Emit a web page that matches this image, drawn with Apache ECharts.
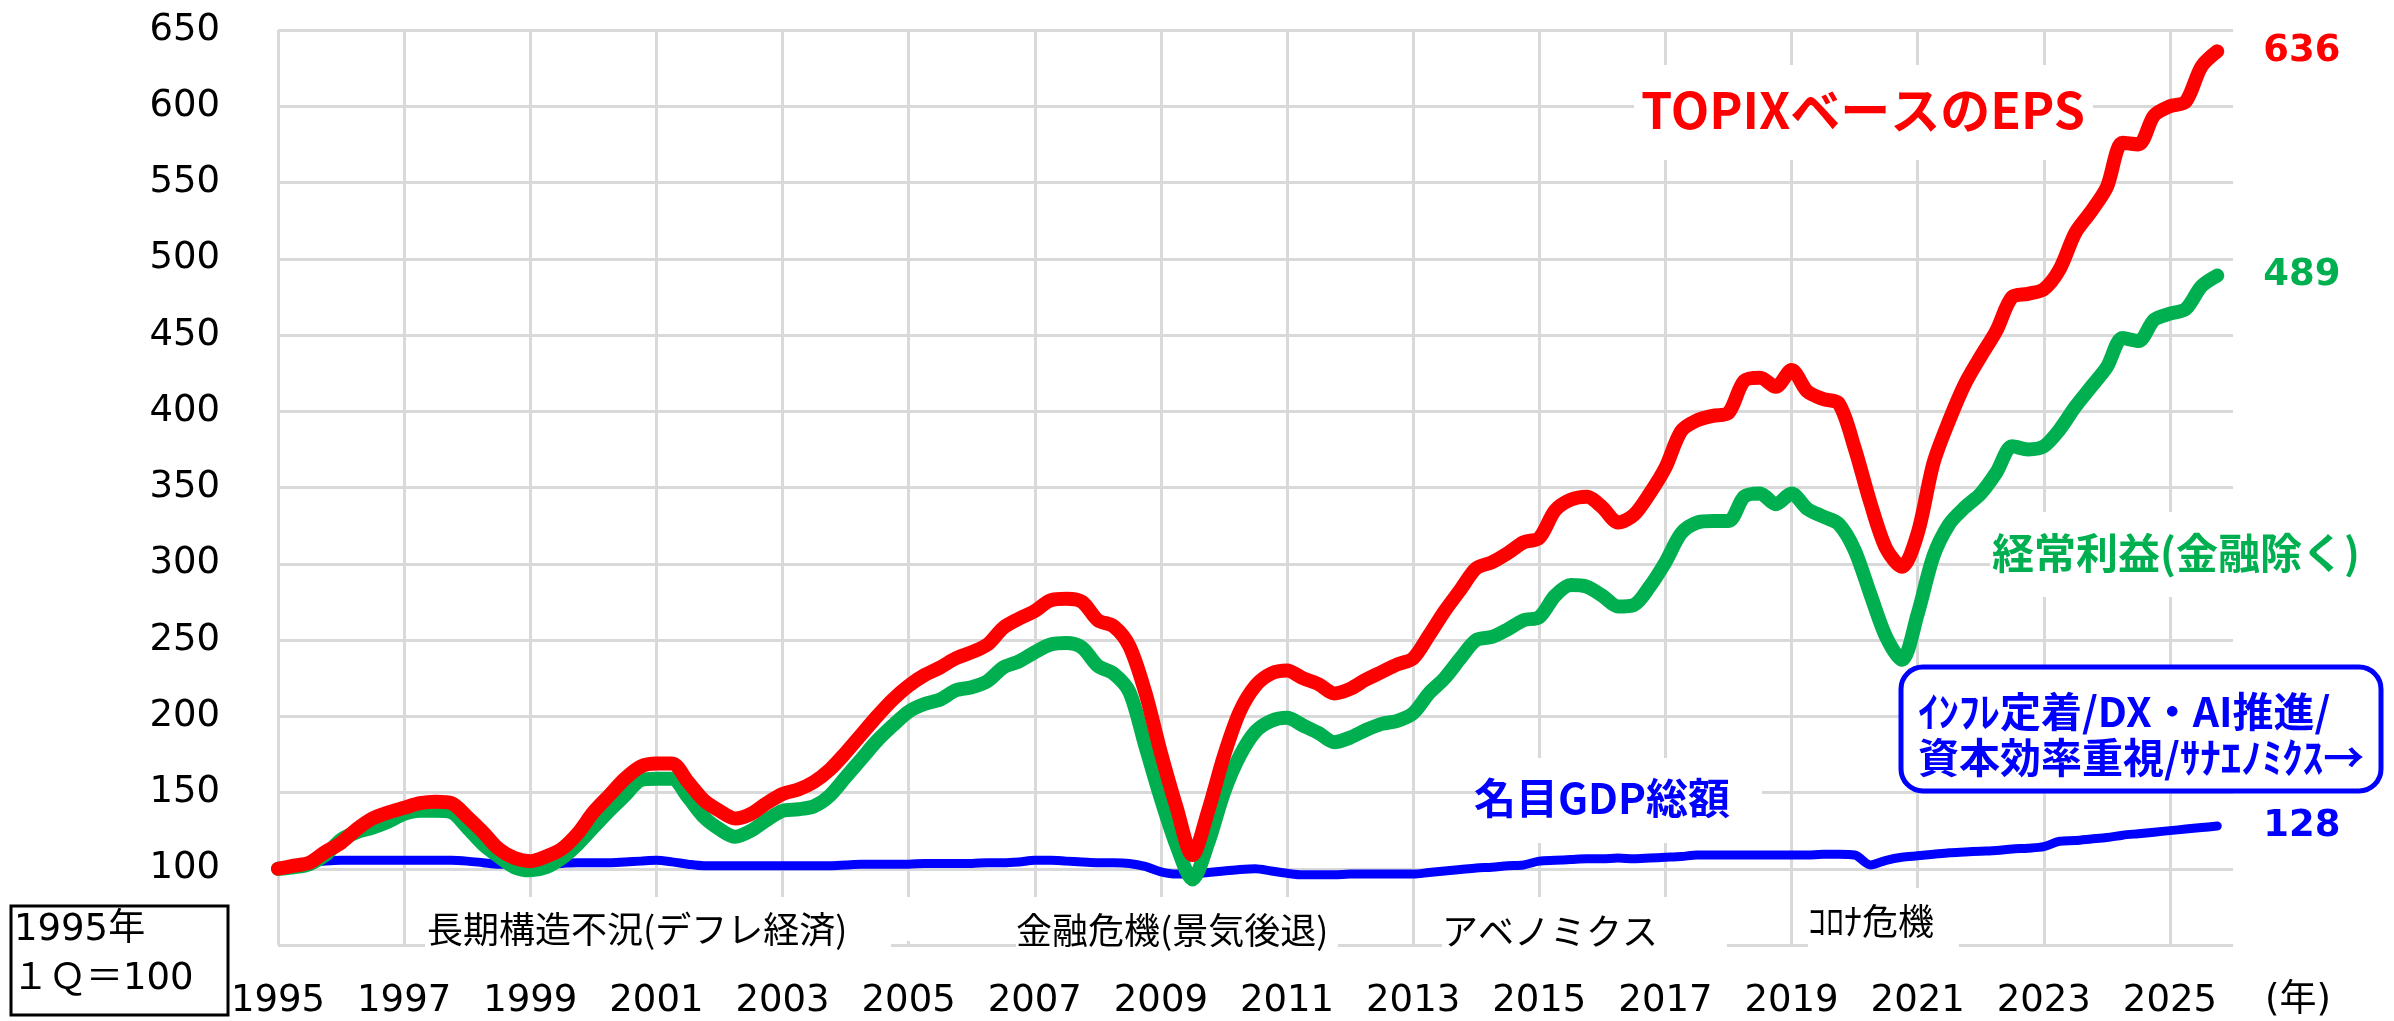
<!DOCTYPE html>
<html>
<head>
<meta charset="utf-8">
<title>TOPIX EPS / 経常利益 / 名目GDP</title>
<script src="https://cdn.jsdelivr.net/npm/echarts@6.0.0/dist/echarts.min.js"></script>
<style>
  html, body { margin: 0; padding: 0; background: #fff; }
  #chart { width: 2394px; height: 1021px; }
</style>
</head>
<body>
<div id="chart"></div>
<script>
// quarterly index, 1995 1Q = 100 (one row per year, Q1..Q4)
const START_YEAR = 1995;

const epsTopix = [
  100, 102, 104, 111,   // 1995
  117, 126, 133, 137,   // 1996
  140, 143, 144, 143,   // 1997
  134, 124, 113, 107,   // 1998
  105, 108, 113, 123,   // 1999
  137, 148, 159, 167,   // 2000
  169, 169, 157, 145,   // 2001
  138, 133, 136, 143,   // 2002
  149, 152, 157, 165,   // 2003
  176, 188, 200, 211,   // 2004
  220, 227, 232, 238,   // 2005
  242, 247, 258, 264,   // 2006
  269, 276, 277, 275,   // 2007
  263, 259, 246, 216,   // 2008
  176, 140, 109, 138,   // 2009
  174, 203, 220, 228,   // 2010
  230, 225, 221, 215,   // 2011
  218, 224, 229, 234,   // 2012
  238, 253, 269, 283,   // 2013
  297, 301, 307, 314,   // 2014
  317, 335, 342, 344,   // 2015
  337, 327, 332, 346,   // 2016
  363, 387, 394, 397,   // 2017
  399, 420, 422, 416,   // 2018
  427, 413, 408, 405,   // 2019
  376, 340, 310, 298,   // 2020
  320, 366, 394, 418,   // 2021
  436, 453, 475, 477,   // 2022
  480, 493, 517, 531,   // 2023
  547, 576, 575, 594,   // 2024
  600, 603, 626, 636    // 2025
];

const ordinaryProfit = [
  100, 101, 103, 109,   // 1995
  119, 124, 127, 131,   // 1996
  136, 138, 138, 137,   // 1997
  127, 116, 108, 101,   // 1998
  99, 101, 107, 116,    // 1999
  127, 138, 148, 158,   // 2000
  159, 159, 147, 134,   // 2001
  126, 121, 125, 132,   // 2002
  138, 139, 141, 148,   // 2003
  160, 172, 184, 194,   // 2004
  203, 208, 211, 217,   // 2005
  219, 223, 232, 236,   // 2006
  242, 247, 248, 245,   // 2007
  233, 228, 216, 181,   // 2008
  146, 115, 93, 117,    // 2009
  150, 174, 190, 197,   // 2010
  199, 194, 189, 183,   // 2011
  186, 191, 195, 197,   // 2012
  202, 215, 225, 238,   // 2013
  250, 252, 257, 263,   // 2014
  265, 279, 286, 285,   // 2015
  279, 272, 273, 285,   // 2016
  301, 320, 327, 328,   // 2017
  328, 344, 346, 339,   // 2018
  346, 336, 331, 326,   // 2019
  309, 280, 252, 237,   // 2020
  267, 305, 326, 337,   // 2021
  346, 360, 377, 375,   // 2022
  377, 388, 403, 416,   // 2023
  429, 448, 446, 460,   // 2024
  464, 467, 482, 489    // 2025
];

const nominalGdp = [
  100, 102, 104, 105,           // 1995
  105.5, 105.5, 105.5, 105.5,   // 1996
  105.5, 105.5, 105.5, 105.5,   // 1997
  105, 104, 103, 103,           // 1998
  103, 103, 103.5, 104,         // 1999
  104, 104, 104.5, 105,         // 2000
  105.5, 104.5, 103, 102,       // 2001
  102, 102, 102, 102,           // 2002
  102, 102, 102, 102,           // 2003
  102.5, 103, 103, 103,         // 2004
  103, 103.5, 103.5, 103.5,     // 2005
  103.5, 104, 104, 104.5,       // 2006
  105.5, 105.5, 105, 104.5,     // 2007
  104, 104, 103.5, 101.5,       // 2008
  98, 96.5, 96.5, 97.5,         // 2009
  98.5, 99.5, 100, 98.5,        // 2010
  97, 96, 96, 96,               // 2011
  96.5, 96.5, 96.5, 96.5,       // 2012
  96.5, 97.5, 98.5, 99.5,       // 2013
  100.5, 101, 102, 102.5,       // 2014
  105, 105.5, 106, 106.5,       // 2015
  106.5, 107, 106.5, 107,       // 2016
  107.5, 108, 109, 109,         // 2017
  109, 109, 109, 109,           // 2018
  109, 109, 109.5, 109.5,       // 2019
  109, 102.5, 105.5, 107.5,     // 2020
  108.5, 109.5, 110.5, 111,     // 2021
  111.5, 112, 113, 113.5,       // 2022
  114.5, 118, 118.5, 119.5,     // 2023
  120.5, 122, 123, 124,         // 2024
  125, 126, 127, 128            // 2025
];

const Y_TICKS = { min: 50, max: 650, step: 50 };
const X_TICKS = { min: 1995, max: 2026, step: 2 };

const JP = '"Noto Sans CJK JP", sans-serif';
const NUM = '"DejaVu Sans", "Noto Sans CJK JP", sans-serif';

// place each quarterly value at year + (q / 4)
function toPoints(values) {
  return values.map((v, i) => [START_YEAR + i / 4, v]);
}

function endLabel(color) {
  return {
    show: true,
    distance: 46,
    color: color,
    fontFamily: NUM,
    fontWeight: 'bold',
    fontSize: 37,
    formatter: (p) => String(p.value[1])
  };
}

function lineSeries(name, values, color, width) {
  return {
    name: name,
    type: 'line',
    data: toPoints(values),
    showSymbol: false,
    smooth: 0.3,
    lineStyle: { color: color, width: width, cap: 'round', join: 'round' },
    itemStyle: { color: color },
    endLabel: endLabel(color)
  };
}

// white boxes behind the notes, so the grid breaks under them like the original
function whiteBox(x, y, w, h) {
  return { type: 'rect', z: 1, shape: { x: x, y: y, width: w, height: h }, style: { fill: '#fff' } };
}

function note(text, x, y, color, font, align) {
  return {
    type: 'text', z: 3, x: x, y: y,
    style: { text: text, fill: color, font: font, align: align || 'left', verticalAlign: 'middle' }
  };
}

const chart = echarts.init(document.getElementById('chart'), null, { renderer: 'canvas' });

chart.setOption({
  animation: false,
  backgroundColor: '#fff',
  grid: { left: 278, right: 161, top: 30, bottom: 76, containLabel: false },
  xAxis: {
    type: 'value',
    min: X_TICKS.min,
    max: X_TICKS.max,
    interval: X_TICKS.step,
    axisLine: { show: false },
    axisTick: { show: false },
    axisLabel: {
      showMaxLabel: false,
      margin: 38,
      fontSize: 37,
      fontFamily: NUM,
      color: '#000',
      formatter: (v) => String(v)
    },
    splitLine: { show: true, showMaxLine: false, lineStyle: { color: '#d9d9d9', width: 3 } }
  },
  yAxis: {
    type: 'value',
    min: Y_TICKS.min,
    max: Y_TICKS.max,
    interval: Y_TICKS.step,
    axisLine: { show: false },
    axisTick: { show: false },
    axisLabel: {
      showMinLabel: false,
      margin: 58,
      fontSize: 37,
      fontFamily: NUM,
      color: '#000',
      padding: [0, 0, 12, 0]
    },
    splitLine: { show: true, lineStyle: { color: '#d9d9d9', width: 3 } }
  },
  series: [
    lineSeries('名目GDP総額', nominalGdp, '#0000ff', 9),
    lineSeries('経常利益(金融除く)', ordinaryProfit, '#00b050', 14),
    lineSeries('TOPIXベースのEPS', epsTopix, '#ff0000', 14)
  ],
  graphic: {
    elements: [
      // series names
      whiteBox(1634, 65, 459, 95),
      note('TOPIXベースのEPS', 1863, 110, '#ff0000', 'bold 50px ' + JP, 'center'),
      whiteBox(1990, 512, 243, 85),
      note('経常利益(金融除く)', 1992, 553, '#00b050', 'bold 42px ' + JP),
      whiteBox(1477, 758, 285, 85),
      note('名目GDP総額', 1474, 798, '#0000ff', 'bold 42px ' + JP),

      // blue rounded call-out
      {
        type: 'rect', z: 1,
        shape: { x: 1901, y: 667, width: 480, height: 124, r: 22 },
        style: { fill: '#fff', stroke: '#0000ff', lineWidth: 5 }
      },
      note('ｲﾝﾌﾚ定着/DX・AI推進/', 1918, 711, '#0000ff', 'bold 41px ' + JP),
      note('資本効率重視/ｻﾅｴﾉﾐｸｽ→', 1918, 757, '#0000ff', 'bold 41px ' + JP),

      // period notes along the bottom
      whiteBox(425, 897, 466, 52),
      whiteBox(891, 897, 32, 44),
      note('長期構造不況(デフレ経済)', 427, 929, '#000', '36px ' + JP),
      whiteBox(1016, 897, 322, 52),
      note('金融危機(景気後退)', 1016, 930, '#000', '36px ' + JP),
      whiteBox(1442, 897, 285, 52),
      note('アベノミクス', 1442, 931, '#000', '36px ' + JP),
      whiteBox(1808, 888, 151, 61),
      note('ｺﾛﾅ危機', 1808, 921, '#000', '36px ' + JP),

      // unit label on the x axis
      note('(年)', 2298, 1001, '#000', '37px ' + NUM, 'center'),

      // base-period box
      {
        type: 'rect', z: 1,
        shape: { x: 11, y: 906, width: 217, height: 109 },
        style: { fill: '#fff', stroke: '#000', lineWidth: 3 }
      },
      note('1995年', 14, 930, '#000', '37px ' + NUM),
      note('１Ｑ＝100', 12, 979, '#000', '37px ' + NUM)
    ]
  }
});
</script>
</body>
</html>
